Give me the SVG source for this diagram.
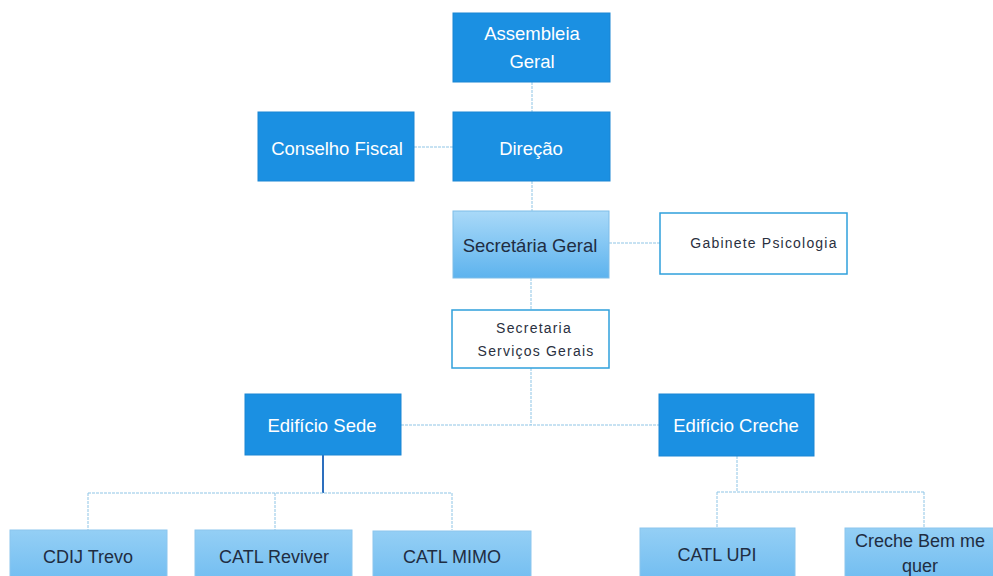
<svg xmlns="http://www.w3.org/2000/svg" width="993" height="576" viewBox="0 0 993 576">
<defs>
<linearGradient id="lg" x1="0" y1="0" x2="0" y2="1">
<stop offset="0" stop-color="#a9d9f8"/>
<stop offset="1" stop-color="#5db3ee"/>
</linearGradient>
<linearGradient id="lg2" x1="0" y1="0" x2="0" y2="1">
<stop offset="0" stop-color="#94cff5"/>
<stop offset="1" stop-color="#6cbaf0"/>
</linearGradient>
</defs>
<style>
text{font-family:"Liberation Sans",Arial,sans-serif;text-anchor:middle}
.dark rect{fill:#1b90e2;stroke:#1a86d4;stroke-width:1}
.dark text{fill:#ffffff;font-size:18.5px}
.light rect{fill:url(#lg);stroke:#7fbde8;stroke-width:1}
.light text{fill:#1f2d42;font-size:18.5px}
.child rect{fill:url(#lg2);stroke:#8cc6ee;stroke-width:1}
.child text{fill:#1f2d42;font-size:18px}
.white rect{fill:#ffffff;stroke:#2fa0dc;stroke-width:1.5}
.white text{fill:#2a3040;font-size:14px;letter-spacing:1.2px}
.conn line{stroke:#8fc5e6;stroke-width:1;stroke-dasharray:3 1}
.conn line.solid{stroke:#2d6fbe;stroke-width:2;stroke-dasharray:none}
</style>
<rect width="993" height="576" fill="#ffffff"/>
<g id="connectors" class="conn">
<line x1="532" y1="82" x2="532" y2="112"/>
<line x1="414" y1="147" x2="453" y2="147"/>
<line x1="532" y1="181" x2="532" y2="211"/>
<line x1="609" y1="243" x2="660" y2="243"/>
<line x1="531" y1="278" x2="531" y2="310"/>
<line x1="531" y1="368" x2="531" y2="425"/>
<line x1="401" y1="425" x2="659" y2="425"/>
<line class="solid" x1="323" y1="455" x2="323" y2="493"/>
<line x1="88" y1="493" x2="452" y2="493"/>
<line x1="88" y1="493" x2="88" y2="530"/>
<line x1="275" y1="493" x2="275" y2="530"/>
<line x1="452" y1="493" x2="452" y2="530"/>
<line x1="737" y1="456" x2="737" y2="492"/>
<line x1="717" y1="492" x2="924" y2="492"/>
<line x1="717" y1="492" x2="717" y2="528"/>
<line x1="924" y1="492" x2="924" y2="528"/>
</g>
<g id="assembleia" class="dark">
<rect x="453" y="13" width="157" height="69"/>
<text x="532" y="40">Assembleia</text>
<text x="532" y="68">Geral</text>
</g>
<g id="conselho" class="dark">
<rect x="258" y="112" width="156" height="69"/>
<text x="337" y="155">Conselho Fiscal</text>
</g>
<g id="direcao" class="dark">
<rect x="453" y="112" width="157" height="69"/>
<text x="531" y="155">Direção</text>
</g>
<g id="secretaria-geral" class="light">
<rect x="453" y="211" width="156" height="67"/>
<text x="530" y="252">Secretária Geral</text>
</g>
<g id="gabinete" class="white">
<rect x="660" y="213" width="187" height="61"/>
<text x="764" y="248">Gabinete Psicologia</text>
</g>
<g id="servicos" class="white">
<rect x="452" y="310" width="157" height="58"/>
<text x="534" y="333">Secretaria</text>
<text x="536" y="356">Serviços Gerais</text>
</g>
<g id="sede" class="dark">
<rect x="245" y="394" width="156" height="61"/>
<text x="322" y="432">Edifício Sede</text>
</g>
<g id="creche" class="dark">
<rect x="659" y="394" width="155" height="62"/>
<text x="736" y="432">Edifício Creche</text>
</g>
<g id="cdij" class="child">
<rect x="10" y="530" width="157" height="60"/>
<text x="88" y="563">CDIJ Trevo</text>
</g>
<g id="reviver" class="child">
<rect x="195" y="530" width="157" height="60"/>
<text x="274" y="563">CATL Reviver</text>
</g>
<g id="mimo" class="child">
<rect x="373" y="531" width="158" height="60"/>
<text x="452" y="563">CATL MIMO</text>
</g>
<g id="upi" class="child">
<rect x="640" y="528" width="155" height="60"/>
<text x="717" y="561">CATL UPI</text>
</g>
<g id="bemmequer" class="child">
<rect x="845" y="528" width="155" height="60"/>
<text x="920" y="547">Creche Bem me</text>
<text x="920" y="572">quer</text>
</g>
</svg>
